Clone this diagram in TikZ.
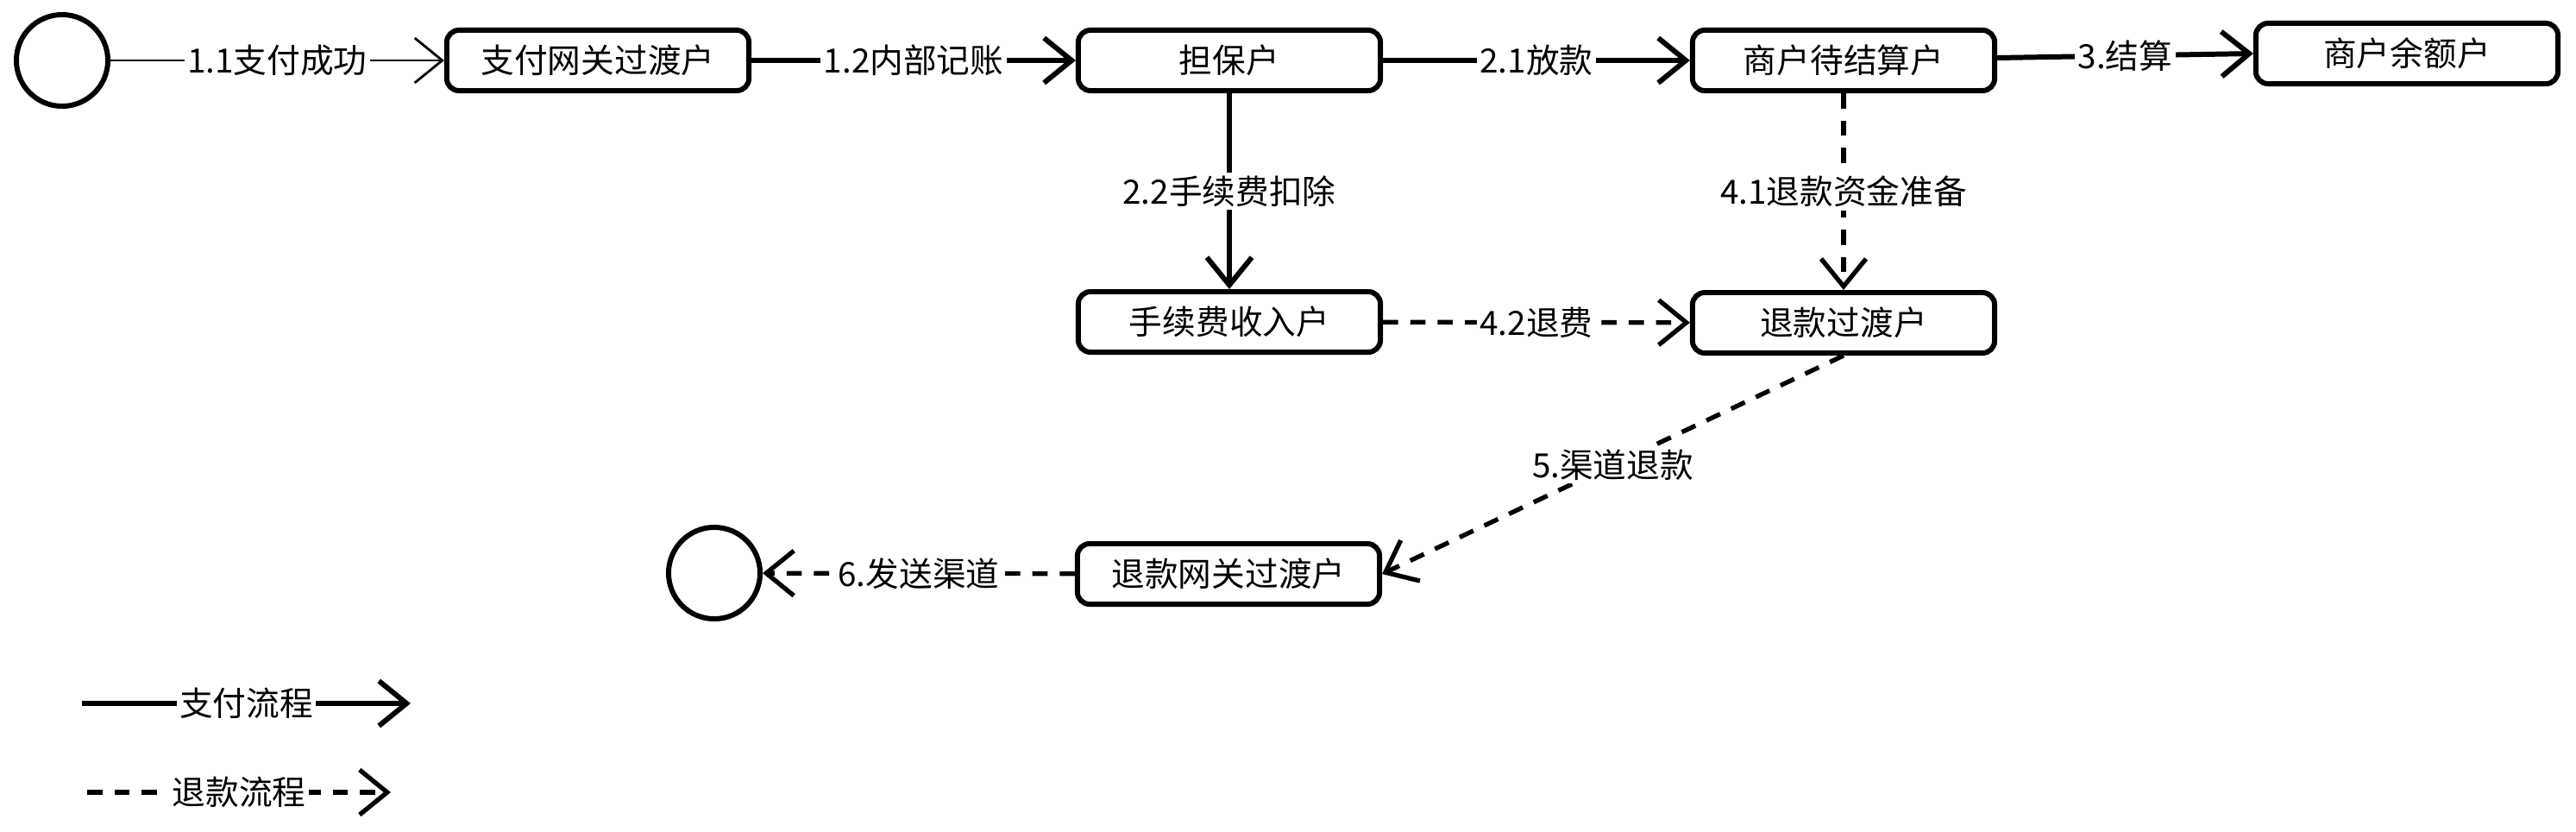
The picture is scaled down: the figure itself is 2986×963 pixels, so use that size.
\documentclass[tikz,border=0pt]{standalone}
\usepackage{fontspec}
\setmainfont{Noto Sans CJK SC}
\usetikzlibrary{arrows.meta}

\begin{document}
\begin{tikzpicture}[x=0.01cm, y=-0.01cm, font=\fontsize{11}{13}\selectfont,
    >={Straight Barb[length=3.2mm, width=5.2mm]}]
    \tikzset{
      acct/.style={
        draw,
        line width=1.7pt,
        rounded corners=4pt,
        minimum width=3.5cm,
        minimum height=0.7cm,
        inner sep=2pt,
      },
      ends/.style={
        draw,
        circle,
        line width=1.7pt,
        minimum size=1.06cm,
      },
      lbl/.style={
        fill=white,
        inner sep=1pt,
        % midway,
      },
      pay/.style={->, line width=1.7pt},
      refund/.style={->, line width=1.5pt, dash pattern=on 5pt off 4pt},
    }

    \useasboundingbox (0,0) rectangle (2986,963);

    % top row
    \node[ends] (start)   at (72,70)     {};
    \node[acct] (gw)      at (693,70)    {支付网关过渡户};
    \node[acct] (escrow)  at (1425,70)   {担保户};
    \node[acct] (settle)  at (2137,70)   {商户待结算户};
    \node[acct] (balance) at (2790,62)   {商户余额户};

    % middle rows
    \node[acct] (fee)     at (1425,373)  {手续费收入户};
    \node[acct] (refacc)  at (2137,374)  {退款过渡户};
    \node[acct] (refgw)   at (1424,665)  {退款网关过渡户};
    \node[ends] (stop)    at (828,664)   {};

    % legend
    \coordinate (lgPa) at (95,815);
    \coordinate (lgPb) at (476,815);
    \coordinate (lgRa) at (101,918);
    \coordinate (lgRb) at (453,918);

    \path[pay, every node/.style=lbl]
        (start)  edge[line width=0.8pt] node {1.1支付成功} (gw)
        (gw)     edge node {1.2内部记账} (escrow)
        (escrow) edge node {2.1放款} (settle)
        (settle) edge node {3.结算} (balance.west)
        (escrow) edge node {2.2手续费扣除} (fee)
        (lgPa)   edge node {支付流程} (lgPb);

    % refund flow
    \path[refund, every node/.style=lbl]
        (settle)       edge node {4.1退款资金准备} (refacc)
        (fee)          edge node {4.2退费} (refacc)
        (refacc.south) edge node {5.渠道退款} (refgw.east)
        (refgw)        edge node {6.发送渠道} (stop)
        (lgRa)         edge node {退款流程} (lgRb);
\end{tikzpicture}
\end{document}
